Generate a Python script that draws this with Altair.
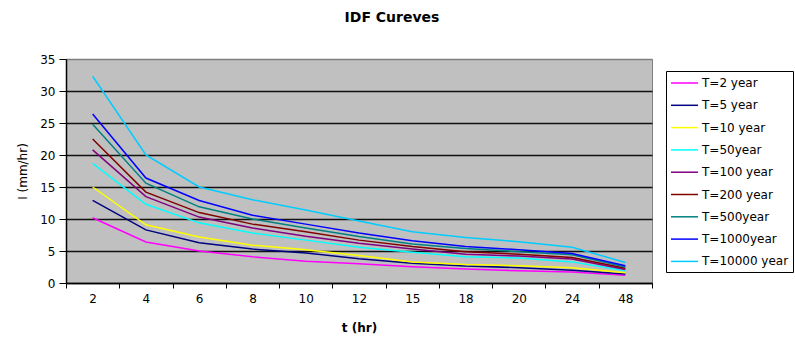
import altair as alt
import pandas as pd

durations = ["2", "4", "6", "8", "10", "12", "15", "18", "20", "24", "48"]
series_names = ["T=2 year", "T=5 year", "T=10 year", "T=50year", "T=100 year",
                "T=200 year", "T=500year", "T=1000year", "T=10000 year"]
series_colors = ["#FF00FF", "#000080", "#FFFF00", "#00FFFF", "#800080",
                 "#800000", "#008080", "#0000FF", "#00CCFF"]

t2 = [10.2, 6.4, 5.0, 4.1, 3.4, 3.0, 2.55, 2.2, 1.9, 1.7, 1.2]
t5 = [12.9, 8.3, 6.3, 5.3, 4.7, 3.8, 3.1, 2.65, 2.4, 2.0, 1.4]
t10 = [15.0, 9.1, 7.2, 5.9, 5.2, 4.3, 3.3, 2.9, 2.7, 2.4, 1.6]
t50 = [18.7, 12.3, 9.4, 7.8, 6.7, 5.6, 4.8, 4.1, 3.9, 3.3, 1.9]
t100 = [20.8, 13.5, 10.3, 8.6, 7.3, 6.2, 5.3, 4.5, 4.2, 3.75, 2.1]
t200 = [22.5, 14.2, 11.0, 9.2, 8.0, 6.7, 5.7, 4.9, 4.5, 4.0, 2.3]
t500 = [24.8, 15.6, 11.9, 10.0, 8.6, 7.25, 6.1, 5.4, 4.9, 4.4, 2.5]
t1000 = [26.4, 16.4, 12.9, 10.6, 9.2, 7.8, 6.6, 5.7, 5.2, 4.6, 2.7]
t10000 = [32.3, 20.0, 15.0, 13.0, 11.4, 9.7, 8.0, 7.1, 6.45, 5.6, 3.2]

all_series = [t2, t5, t10, t50, t100, t200, t500, t1000, t10000]

rows = []
for name, vals in zip(series_names, all_series):
    for d, v in zip(durations, vals):
        rows.append({"t": d, "I": v, "series": name})
df = pd.DataFrame(rows)

FONT = "DejaVu Sans"

chart = alt.Chart(df).mark_line(strokeWidth=1.5).encode(
    x=alt.X("t:N", sort=durations,
            scale=alt.Scale(type="band", paddingInner=0, paddingOuter=0),
            axis=alt.Axis(title="t (hr)", labelAngle=0, tickBand="extent",
                          tickSize=5, labelPadding=5, titlePadding=18,
                          titleFontWeight="bold", grid=False)),
    y=alt.Y("I:Q", scale=alt.Scale(domain=[0, 35], nice=False),
            axis=alt.Axis(title="I (mm/hr)", values=[0, 5, 10, 15, 20, 25, 30, 35],
                          tickSize=7, labelPadding=4, titlePadding=10,
                          titleFontWeight="normal",
                          gridColor={"condition": {"test": "datum.value == 35", "value": "#808080"},
                                     "value": "#111111"})),
    color=alt.Color("series:N", sort=series_names,
                    scale=alt.Scale(domain=series_names, range=series_colors),
                    legend=alt.Legend(title=None, orient="none", legendX=600, legendY=12,
                                      symbolType="M-1,0H2.857", symbolSize=196,
                                      symbolStrokeWidth=1.5, labelOffset=16,
                                      rowPadding=8.3, padding=4,
                                      strokeColor="black", fillColor="white",
                                      labelFont=FONT, labelFontSize=12, labelLimit=300)),
    order=alt.Order("t_idx:Q"),
).transform_calculate(
    t_idx="indexof(" + str(durations).replace("'", '"') + ", datum.t)"
).properties(
    width=586, height=224,
    title=alt.TitleParams("IDF Cureves", font=FONT, fontSize=14, fontWeight="bold",
                          anchor="middle", frame="group", dx=33, offset=28, color="black"),
    autosize=alt.AutoSizeParams(type="none"),
    padding={"left": 66, "top": 59, "right": 143, "bottom": 59},
).configure(background="white").configure_view(
    fill="#C0C0C0", stroke="#808080", strokeWidth=1
).configure_axis(
    labelFont=FONT, labelFontSize=12, labelColor="black",
    titleFont=FONT, titleFontSize=12, titleColor="black",
    domainColor="black", domainWidth=1.5, tickColor="black", tickWidth=1,
    gridWidth=1.6
)

chart.save("out.html", embed_options={"renderer": "svg", "actions": False})
